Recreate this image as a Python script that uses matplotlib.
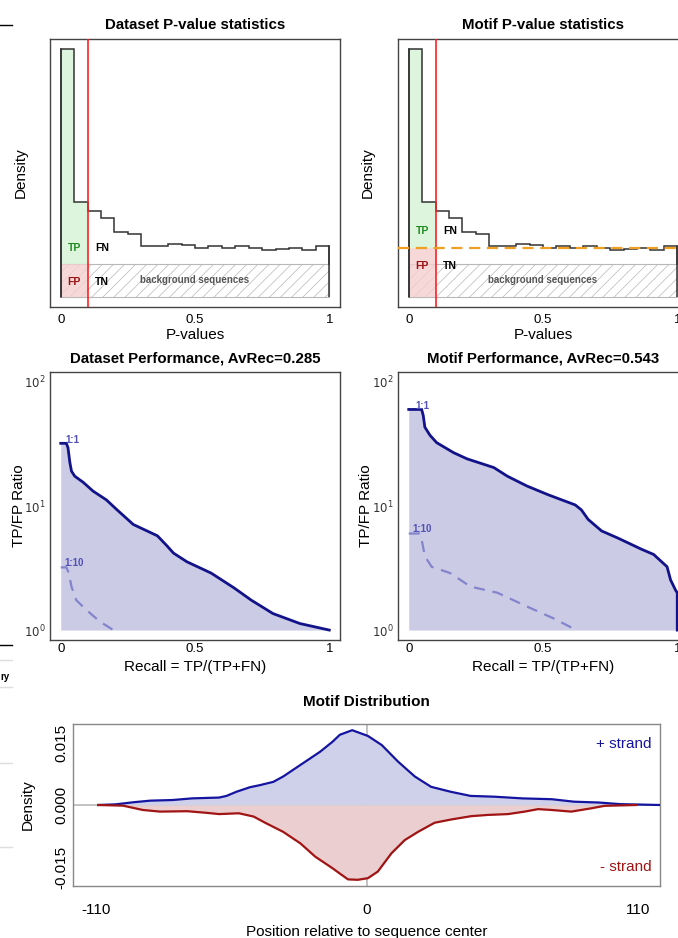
import matplotlib
matplotlib.use("Agg")
import matplotlib.pyplot as plt
from matplotlib.lines import Line2D
from matplotlib.patches import Rectangle

plt.rcParams['font.family'] = ['Liberation Sans', 'DejaVu Sans']
plt.rcParams['hatch.linewidth'] = 0.5

# p-value histogram (same for dataset and motif)
bin_edges = [0.0, 0.05, 0.1, 0.15, 0.2, 0.25, 0.3, 0.35, 0.4, 0.45, 0.5,
             0.55, 0.6, 0.65, 0.7, 0.75, 0.8, 0.85, 0.9, 0.95, 1.0]
pval_density = [3.71, 1.42, 1.29, 1.18, 0.98, 0.94, 0.76, 0.76, 0.80, 0.78,
                0.74, 0.76, 0.74, 0.77, 0.73, 0.71, 0.72, 0.74, 0.71, 0.77]
background_level = 0.49
pi0_level = 0.73
pval_cutoff = 0.1

# TP/FP ratio curves
ds_recall = [0, 0.021, 0.027, 0.034, 0.04, 0.052, 0.084, 0.12, 0.17, 0.21, 0.27,
             0.36, 0.395, 0.42, 0.47, 0.56, 0.645, 0.71, 0.79, 0.89, 1.0]
ds_ratio = [32.0, 32.0, 29.5, 22.4, 19.1, 17.4, 15.5, 13.2, 11.2, 9.3, 7.1,
            5.75, 4.79, 4.17, 3.55, 2.88, 2.19, 1.74, 1.36, 1.13, 1.0]
ds_recall10 = [0, 0.021, 0.03, 0.04, 0.058, 0.096, 0.146, 0.196]
ds_ratio10 = [3.2, 3.2, 2.88, 2.24, 1.74, 1.45, 1.17, 1.0]

mo_recall = [0, 0.048, 0.054, 0.06, 0.079, 0.104, 0.167, 0.217, 0.317, 0.367, 0.44,
             0.52, 0.62, 0.643, 0.668, 0.718, 0.78, 0.868, 0.912, 0.962, 0.975,
             0.994, 1.0, 1.0]
mo_ratio = [60, 60, 53.7, 43.2, 37.2, 32.4, 26.9, 24.0, 20.4, 17.4, 14.5,
            12.3, 10.2, 9.3, 7.8, 6.3, 5.5, 4.47, 4.07, 3.24, 2.54,
            2.09, 2.0, 1.0]
mo_recall10 = [0, 0.041, 0.048, 0.06, 0.085, 0.154, 0.23, 0.33, 0.44, 0.54, 0.624]
mo_ratio10 = [6.0, 6.0, 5.37, 3.94, 3.24, 2.88, 2.24, 2.0, 1.55, 1.24, 1.0]

# motif distribution
plus_pos = [-109, -102, -95, -88, -79, -71, -60, -57, -53, -47.5, -43.5, -38, -34,
            -27, -19, -14, -11, -6, 0.4, 6, 12.6, 19.4, 26, 34, 42, 52, 63, 75,
            84, 94, 103, 119]
plus_dens = [0, 0.00016, 0.00065, 0.00105, 0.0012, 0.0016, 0.0018, 0.0022, 0.0032,
             0.0043, 0.0048, 0.0056, 0.0069, 0.0097, 0.0129, 0.0153, 0.0170, 0.0181,
             0.0167, 0.0145, 0.0105, 0.0069, 0.0044, 0.0032, 0.0022, 0.0020, 0.0016,
             0.0014, 0.0008, 0.0006, 0.0002, 0]
minus_pos = [-109, -99, -91, -84, -73, -65, -60, -52, -46, -41, -34, -27, -21, -14,
             -11, -7.7, -3.7, 0.4, 4.4, 9.9, 15.3, 20.7, 27.4, 34.2, 42.3, 49.1,
             57.2, 64, 69.4, 74.8, 82.9, 91, 96.4, 109.3]
minus_dens = [0, -0.00016, -0.0012, -0.0016, -0.0015, -0.0019, -0.0022, -0.0020,
              -0.0028, -0.0044, -0.0065, -0.0093, -0.0125, -0.0153, -0.0166, -0.0180,
              -0.0181, -0.0177, -0.0161, -0.0117, -0.0085, -0.0065, -0.0043, -0.0035,
              -0.0027, -0.0024, -0.0022, -0.0016, -0.0010, -0.0012, -0.0016, -0.0008,
              -0.0002, 0]

W, H = 678, 938
fig = plt.figure(figsize=(W / 100, H / 100), dpi=100)


def box(x0, y0, x1, y1):
    # pixel box (top-left origin) -> figure fraction rect
    return [x0 / W, 1 - y1 / H, (x1 - x0) / W, (y1 - y0) / H]


def frame(ax, color):
    for s in ax.spines.values():
        s.set_color(color)
        s.set_linewidth(1.0)


def pval_panel(ax, title, motif):
    ymax = max(pval_density)
    ax.set_xlim(-0.04, 1.04)
    ax.set_ylim(-0.04 * ymax, ymax * 1.04)
    level = pi0_level if motif else background_level
    # hatched background box
    ax.add_patch(Rectangle((0, 0), 1, background_level, facecolor='none',
                           edgecolor='#b8b8b8', hatch='///', lw=0.8, zorder=1))
    # TP region (green) and FP region (red) below the cutoff
    xs, top = [], []
    for i in range(len(pval_density)):
        if bin_edges[i] < pval_cutoff - 1e-9:
            xs += [bin_edges[i], bin_edges[i + 1]]
            top += [pval_density[i], pval_density[i]]
    ax.fill_between(xs, level, top, color='#ddf5dd', lw=0, zorder=0.5)
    ax.fill_between(xs, 0, level, color='#f4cfcf', alpha=0.8, lw=0, zorder=1.5)
    ax.stairs(pval_density, bin_edges, color='#333333', lw=1.1, zorder=3)
    ax.plot([0, 0], [0, pval_density[0]], color='#333333', lw=1.1, zorder=3)
    ax.plot([1, 1], [background_level, pval_density[-1]], color='#333333', lw=1.1, zorder=3)
    ax.axvline(pval_cutoff, color='#ff2020', lw=1.2, zorder=4)
    if motif:
        ax.axhline(pi0_level, color='#f0a020', lw=1.6, ls=(0, (5, 3)), zorder=4)
        ty, fy = 0.99, 0.47
    else:
        ty, fy = 0.74, 0.23
    kw = dict(fontsize=7.5, fontweight='bold', va='center', zorder=5)
    ax.text(0.05, ty, 'TP', color='#1e8a1e', ha='center', **kw)
    ax.text(0.127, ty, 'FN', color='black', ha='left', **kw)
    ax.text(0.05, fy, 'FP', color='#9a0e0e', ha='center', **kw)
    ax.text(0.127, fy, 'TN', color='black', ha='left', **kw)
    ax.text(0.5, 0.25, 'background sequences', color='#555555', ha='center',
            **dict(kw, fontsize=7))
    ax.set_yticks([])
    ax.set_xticks([0, 0.5, 1])
    ax.set_xticklabels(['0', '0.5', '1'])
    ax.tick_params(axis='x', length=0, pad=5, labelsize=9.5)
    ax.set_title(title, fontsize=10.8, fontweight='bold', pad=7)
    ax.set_xlabel('P-values', fontsize=11)
    ax.set_ylabel('Density', fontsize=11)
    ax.xaxis.set_label_coords(0.5, -0.078)
    frame(ax, '#444444')


def perf_panel(ax, title, rec, rat, rec10, rat10, lab1, lab10):
    ax.set_yscale('log')
    ax.set_xlim(-0.04, 1.04)
    ax.set_ylim(10 ** -0.08, 10 ** 2.08)
    ax.fill_between(rec, 1, rat, color='#cbcbe6', lw=0, zorder=1)
    ax.plot(rec, rat, color='#12128a', lw=2.0, zorder=3)
    ax.plot(rec10, rat10, color='#8484cc', lw=1.6, ls=(0, (5, 3.5)), zorder=2)
    ax.text(lab1[0], lab1[1], '1:1', color='#5050b8', fontsize=7,
            fontweight='bold', va='bottom', ha='left', zorder=4)
    ax.text(lab10[0], lab10[1], '1:10', color='#5050b8', fontsize=7,
            fontweight='bold', va='bottom', ha='left', zorder=4)
    ax.set_yticks([1, 10, 100])
    ax.set_yticklabels(['$10^0$', '$10^1$', '$10^2$'])
    ax.minorticks_off()
    ax.set_xticks([0, 0.5, 1])
    ax.set_xticklabels(['0', '0.5', '1'])
    ax.tick_params(axis='x', length=0, pad=2, labelsize=9.5)
    ax.tick_params(axis='y', length=0, pad=3, labelsize=8.5, labelcolor='#333333')
    ax.set_title(title, fontsize=10.8, fontweight='bold', pad=7)
    ax.set_xlabel('Recall = TP/(TP+FN)', fontsize=11)
    ax.set_ylabel('TP/FP Ratio', fontsize=11)
    ax.xaxis.set_label_coords(0.5, -0.075)
    frame(ax, '#444444')


ax1 = fig.add_axes(box(50, 39, 340, 307))
pval_panel(ax1, 'Dataset P-value statistics', False)
ax1.yaxis.set_label_coords(-0.076, 0.5)
ax2 = fig.add_axes(box(398, 39, 688, 307))
pval_panel(ax2, 'Motif P-value statistics', True)
ax2.yaxis.set_label_coords(-0.079, 0.5)

ax3 = fig.add_axes(box(50, 372, 340, 640))
perf_panel(ax3, 'Dataset Performance, AvRec=0.285', ds_recall, ds_ratio,
           ds_recall10, ds_ratio10, (0.018, 31), (0.015, 3.15))
ax3.yaxis.set_label_coords(-0.082, 0.5)
ax4 = fig.add_axes(box(398, 372, 688, 640))
perf_panel(ax4, 'Motif Performance, AvRec=0.543', mo_recall, mo_ratio,
           mo_recall10, mo_ratio10, (0.025, 58), (0.012, 5.9))
ax4.yaxis.set_label_coords(-0.085, 0.5)

# motif distribution
ax5 = fig.add_axes(box(73, 724, 660, 886))
ax5.set_xlim(-119.3, 118.9)
ax5.set_ylim(-0.0196, 0.0196)
ax5.axhline(0, color='#b8b8b8', lw=1.2, zorder=0.5)
ax5.axvline(0, color='#b8b8b8', lw=1.2, zorder=0.5)
ax5.fill_between(plus_pos, 0, plus_dens, color='#cfd0ea', lw=0, zorder=1)
ax5.fill_between(minus_pos, 0, minus_dens, color='#ebcfd0', lw=0, zorder=1)
ax5.plot(plus_pos, plus_dens, color='#1414a0', lw=1.6, zorder=3)
ax5.plot(minus_pos, minus_dens, color='#a01414', lw=1.6, zorder=3)
ax5.text(0.985, 0.877, '+ strand', transform=ax5.transAxes, color='#1414a0',
         fontsize=11, ha='right', va='center')
ax5.text(0.985, 0.117, '- strand', transform=ax5.transAxes, color='#a01414',
         fontsize=11, ha='right', va='center')
ax5.set_xticks([-110, 0, 110])
ax5.set_xticklabels(['-110', '0', '110'])
ax5.set_yticks([-0.015, 0, 0.015])
ax5.set_yticklabels(['-0.015', '0.000', '0.015'], rotation=90, va='center')
ax5.tick_params(axis='x', length=0, pad=12, labelsize=11)
ax5.tick_params(axis='y', length=0, pad=3, labelsize=11)
ax5.set_title('Motif Distribution', fontsize=11, fontweight='bold', pad=13)
ax5.set_xlabel('Position relative to sequence center', fontsize=11)
ax5.set_ylabel('Density', fontsize=11)
ax5.xaxis.set_label_coords(0.5, -0.24)
ax5.yaxis.set_label_coords(-0.065, 0.5)
frame(ax5, '#888888')

# page fragments at the left edge
for yy, col in [(25, 'black'), (645, 'black'), (660, '#dddddd'), (687, '#dddddd'),
                (763, '#dddddd'), (847, '#dddddd')]:
    fig.add_artist(Line2D([0, 12 / W], [1 - yy / H] * 2, color=col, lw=1))
fig.text(0, 1 - 677 / H, 'ry', fontsize=7, fontweight='bold', ha='left', va='center')

fig.savefig('out.png', dpi=100)
